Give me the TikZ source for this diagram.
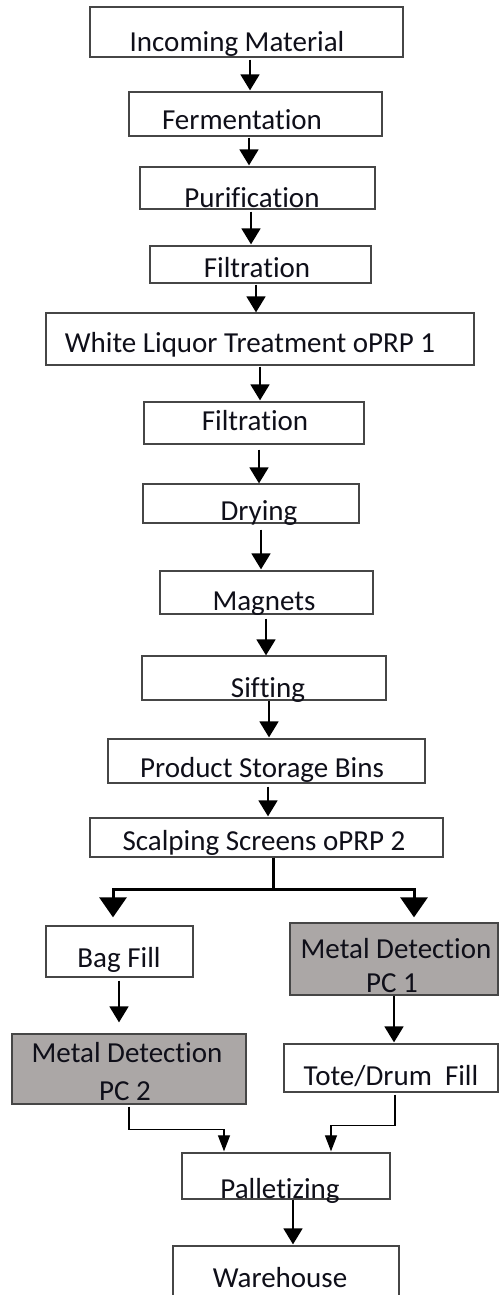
\documentclass[tikz,border=0pt]{standalone}
\usepackage{fontspec}
\setmainfont{Carlito}[Ligatures={NoCommon}]
\usetikzlibrary{arrows.meta}
\definecolor{boxgray}{RGB}{171,167,166}
\definecolor{edge}{RGB}{70,70,70}
\definecolor{ink}{RGB}{15,15,25}
\tikzset{
  box/.style={draw=edge, line width=1.3pt, fill=white, rectangle, inner sep=0pt},
  graybox/.style={box, fill=boxgray},
  txt/.style={anchor=base, inner sep=0pt, text=ink, font=\fontsize{29}{34}\selectfont},
  arr/.style={line width=1.8pt, -{Triangle[width=19pt,length=16pt]}},
  bigarr/.style={line width=3pt, -{Triangle[width=27pt,length=20pt]}},
  thinarr/.style={line width=1.2pt, -{Triangle[width=12pt,length=16pt]}}
}
\begin{document}
\begin{tikzpicture}[x=1pt,y=-1pt]
\useasboundingbox[fill=white] (0,0) rectangle (499,1295);
% boxes
\node[box, minimum width=313pt, minimum height=50pt] (n1) at (246.5,32) {};
\node[box, minimum width=253pt, minimum height=44pt] (n2) at (255.5,114) {};
\node[box, minimum width=235pt, minimum height=42pt] (n3) at (257.5,188) {};
\node[box, minimum width=221pt, minimum height=37pt] (n4) at (260.5,264.5) {};
\node[box, minimum width=428pt, minimum height=52pt] (n5) at (260,339) {};
\node[box, minimum width=220pt, minimum height=42pt] (n6) at (254,423) {};
\node[box, minimum width=216pt, minimum height=39pt] (n7) at (251,503.5) {};
\node[box, minimum width=213pt, minimum height=43pt] (n8) at (266.5,592.5) {};
\node[box, minimum width=244pt, minimum height=44pt] (n9) at (264,678) {};
\node[box, minimum width=317pt, minimum height=44pt] (n10) at (266.5,761) {};
\node[box, minimum width=353pt, minimum height=39pt] (n11) at (266.5,837.5) {};
\node[box, minimum width=147pt, minimum height=51pt] (n12) at (119.5,951.5) {};
\node[graybox, minimum width=208pt, minimum height=72pt] (n13) at (394,959) {};
\node[graybox, minimum width=234pt, minimum height=70pt] (n14) at (129,1069) {};
\node[box, minimum width=214pt, minimum height=48pt] (n15) at (391,1068) {};
\node[box, minimum width=208pt, minimum height=46pt] (n16) at (286,1176) {};
\node[box, minimum width=226pt, minimum height=56pt] (n17) at (286,1274) {};
% texts
\node[txt] (t1) at (237,52) {Incoming Material};
\node[txt] (t2) at (242,130) {Fermentation};
\node[txt] (t3) at (252,207) {Purification};
\node[txt] (t4) at (257,277) {Filtration};
\node[txt] (t5) at (250,352) {White Liquor Treatment oPRP 1};
\node[txt] (t6) at (255,430) {Filtration};
\node[txt] (t7) at (259,520) {Drying};
\node[txt] (t8) at (264,610) {Magnets};
\node[txt] (t9) at (268,697) {Sifting};
\node[txt] (t10) at (262,777) {Product Storage Bins};
\node[txt] (t11) at (264,850) {Scalping Screens oPRP 2};
\node[txt] (t12) at (119,967) {Bag Fill};
\node[txt] (t13a) at (396,958) {Metal Detection};
\node[txt] (t13b) at (392,992) {PC 1};
\node[txt] (t14a) at (127,1062) {Metal Detection};
\node[txt] (t14b) at (125,1100) {PC 2};
\node[txt] (t15) at (391,1085) {Tote/Drum\ \ Fill};
\node[txt] (t16) at (280,1198) {Palletizing};
\node[txt] (t17) at (280,1287) {Warehouse};
% connectors
\draw[arr] ([xshift=3.5pt,yshift=-2pt]n1.south) -- ([xshift=-5.5pt,yshift=1pt]n2.north);
\draw[arr] ([xshift=-6.5pt,yshift=-1pt]n2.south) -- ([xshift=-8.5pt,yshift=1pt]n3.north);
\draw[arr] ([xshift=-6.5pt,yshift=-2pt]n3.south) -- ([xshift=-9.5pt,yshift=1pt]n4.north);
\draw[arr] ([xshift=-4.5pt,yshift=-1pt]n4.south) -- ([xshift=-4pt]n5.north);
\draw[arr] ([xshift=0pt,yshift=-1pt]n5.south) -- ([xshift=6pt,yshift=1pt]n6.north);
\draw[arr] ([xshift=5pt,yshift=-5pt]n6.south) -- ([xshift=8pt]n7.north);
\draw[arr] ([xshift=10pt,yshift=-6pt]n7.south) -- ([xshift=-5.5pt,yshift=1pt]n8.north);
\draw[arr] ([xshift=-0.5pt,yshift=-4pt]n8.south) -- ([xshift=2pt]n9.north);
\draw[arr] ([xshift=5pt]n9.south) -- ([xshift=2.5pt,yshift=1pt]n10.north);
\draw[arr] ([xshift=1.5pt,yshift=-3pt]n10.south) -- ([xshift=1.5pt,yshift=1pt]n11.north);
\draw[bigarr] ([xshift=6.5pt]n11.south) -- ++(0,32) -| ([xshift=-6.5pt,yshift=8pt]n12.north);
\draw[bigarr] ([xshift=6.5pt]n11.south) -- ++(0,32) -| ([xshift=20pt,yshift=5pt]n13.north);
\draw[arr] ([xshift=-0.5pt,yshift=-3pt]n12.south) -- ([xshift=-10pt,yshift=11pt]n14.north);
\draw[arr] (n13.south) -- ([xshift=3pt,yshift=1pt]n15.north);
\draw[thinarr] ([yshift=-2pt]n14.south) -- ++(0,23) -| ([xshift=-62pt,yshift=1pt]n16.north);
\draw[thinarr] ([xshift=4pt,yshift=-2pt]n15.south) -- ++(0,31) -| ([xshift=45pt,yshift=1pt]n16.north);
\draw[arr] ([xshift=7pt]n16.south) -- ([xshift=7pt,yshift=1pt]n17.north);
\end{tikzpicture}
\end{document}
